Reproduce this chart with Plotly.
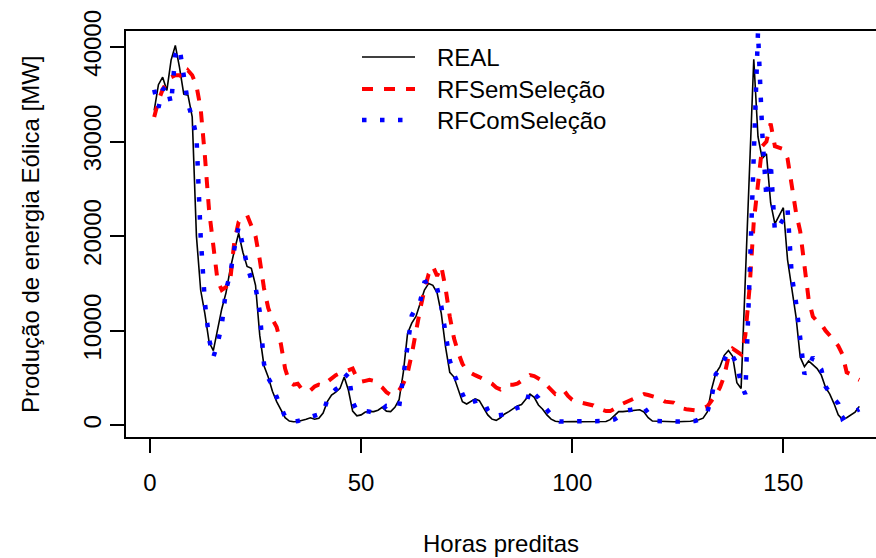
import plotly.graph_objects as go

# Hourly wind-power production over the prediction horizon (MW)
horas = list(range(1, 169))

real = [
    33300, 36000, 36800, 35400, 38600, 40150, 37800, 35000, 34900, 32600,
    20000, 14300, 11800, 8800, 7900, 10000, 12300, 14000, 16500, 18500,
    20300, 18300, 16800, 16600, 14800, 9500, 6300, 5100, 3600, 2500,
    1600, 800, 450, 380, 400, 500, 650, 800, 650, 750,
    1300, 2500, 3200, 3500, 3900, 5100, 3700, 1500, 1000, 1100,
    1400, 1450, 1450, 1600, 1900, 1500, 1450, 1900, 2700, 5600,
    9700, 10800, 11500, 12900, 14300, 15000, 14800, 14000, 11800, 8300,
    5600, 5100, 3700, 2500, 2250, 2500, 2800, 2600, 1900, 1100,
    650, 520, 800, 1200, 1450, 1800, 2050, 2200, 2800, 3300,
    2950, 2150, 1700, 1100, 650, 420, 380, 400, 420, 400,
    390, 380, 380, 370, 360, 360, 370, 400, 600, 1050,
    1450, 1450, 1500, 1520, 1560, 1650, 1400, 800, 450, 420,
    420, 410, 390, 370, 380, 390, 400, 430, 500, 580,
    750, 1400, 3800, 5500, 6200, 7400, 7900, 7300, 4500, 3900,
    15500, 27000, 38700, 30500, 28200, 28700, 23500, 21300, 22200, 23000,
    17500, 14500, 11500, 7200, 6200, 6800, 6400, 6000, 5300, 4000,
    3300, 2300, 1100, 600, 800, 1100, 1400, 2000,
]

rf_sem_selecao = [
    32600, 34300, 35500, 36300, 36800, 37000, 37000, 36700, 37500, 37000,
    35900, 33500, 28500, 22700, 19000, 15300, 14300, 14600, 15300, 19500,
    21500, 22000, 22200, 21200, 20000, 17500, 14500, 12400, 11200, 10400,
    8600, 6000, 4600, 4300, 4400, 3800, 3600, 3700, 4100, 4300,
    4200, 4600, 5000, 5300, 5500, 5700, 5900, 6000, 5000, 4600,
    4700, 4800, 4700, 4400, 4000, 3500, 3200, 3300, 3700, 4400,
    5500, 7500, 10000, 12300, 14300, 16000, 16800, 15800, 16800, 14500,
    11500, 9200, 7700, 6500, 5800, 5500, 5300, 5100, 4900, 4700,
    4400, 4000, 3800, 4100, 4300, 4300, 4400, 4700, 5000, 5300,
    5200, 4900, 4700, 4200, 3700, 3300, 3400, 3700, 3100, 2700,
    2500, 2400, 2300, 2200, 2100, 1800, 1600, 1500, 1500, 1700,
    2000, 2300, 2500, 2700, 2900, 3100, 3300, 3200, 3100, 3000,
    2800, 2500, 2500, 2400, 2100, 1800, 1700, 1600, 1600, 1700,
    1800, 2000, 2600, 3200, 4000, 5200, 7200, 8100, 7800, 7500,
    9500, 14500, 21500, 26000, 29500, 30000, 31900, 29500, 29300, 29200,
    28200, 25000, 22500, 20500, 16500, 13300, 11500, 11000, 10700, 10000,
    9500, 8900, 8400, 7500, 5600, 5400, 5000, 4800,
]

rf_com_selecao = [
    35460, 33560, 35460, 35900, 33980, 39160, 39900, 37000, 34000, 32500,
    30600, 20000, 13000, 9100, 7200, 8600, 10600, 14300, 16000, 18700,
    21000, 19000, 16900, 15400, 14600, 12000, 6500, 5000, 4200, 3000,
    1800, 900, 450, 380, 450, 550, 700, 880, 1000, 1100,
    1300, 2700, 3400, 3800, 4100, 5000, 5500, 2500, 1500, 1550,
    1550, 1450, 1300, 1400, 1700, 2050, 2000, 1950, 1940, 5200,
    8400, 11600, 12400, 13100, 15100, 15300, 15200, 14500, 12600, 10000,
    6870, 5400, 4300, 3400, 2300, 2400, 2550, 2700, 2600, 1600,
    950, 1000, 1100, 1150, 1500, 1700, 1850, 1950, 2050, 3800,
    3300, 2900, 2200, 1600, 1000, 550, 400, 400, 400, 420,
    430, 420, 400, 390, 380, 380, 400, 450, 520, 620,
    900, 1300, 1580, 1650, 1750, 1850, 1900, 1300, 700, 450,
    420, 400, 390, 380, 390, 400, 410, 420, 450, 600,
    900, 1400, 2900, 5400, 5900, 6900, 7850, 7300, 6500, 4300,
    3300, 15500, 28000, 41600, 31000, 24000, 27800, 20500, 21100, 21800,
    22900, 15800, 13000, 9300, 5400, 6200, 7200, 6500, 5900, 4100,
    3400, 2800, 2300, 700, 1000, 1300, 1500, 1700,
]

x_ticks = [0, 50, 100, 150]
y_ticks = [0, 10000, 20000, 30000, 40000]

FONT = "Liberation Sans, Arial, Helvetica, sans-serif"

# Line styles shared by the traces and the legend keys
styles = {
    "REAL": dict(color="black", width=1.6),
    "RFSemSeleção": dict(color="#ff0000", width=4, dash="11px,11px"),
    "RFComSeleção": dict(color="#0000ff", width=4.5, dash="4.5px,13.5px"),
}
series = [("REAL", real), ("RFSemSeleção", rf_sem_selecao), ("RFComSeleção", rf_com_selecao)]

fig = go.Figure()
for name, values in series:
    fig.add_trace(go.Scatter(x=horas, y=values, mode="lines", name=name,
                             line=styles[name], showlegend=False))

# Plot area in pixels: x 126..876, y 31..437
PL, PR, PT, PB = 126, 876, 31, 437


def px_x(p):
    return (p - PL) / (PR - PL)


def px_y(p):
    return (PB - p) / (PB - PT)


# Borderless legend at the top centre of the plot
legend_rows = [57, 89, 120]
shapes = []
annotations = []
for (name, _), row in zip(series, legend_rows):
    shapes.append(dict(type="line", xref="paper", yref="paper",
                       x0=px_x(362), x1=px_x(415), y0=px_y(row), y1=px_y(row),
                       line=styles[name]))
    annotations.append(dict(text=name, xref="paper", yref="paper",
                            x=px_x(435), y=px_y(row), xanchor="left", yanchor="middle",
                            showarrow=False, font=dict(family=FONT, size=24, color="black")))

annotations += [
    dict(text="Horas preditas", xref="paper", yref="paper", x=0.5, y=0,
         xanchor="center", yanchor="middle", yshift=-106, showarrow=False,
         font=dict(family=FONT, size=24, color="black")),
    dict(text="Produção de energia Eólica [MW]", xref="paper", yref="paper",
         x=0, y=0.5, xanchor="center", yanchor="middle", xshift=-96,
         textangle=-90, showarrow=False,
         font=dict(family=FONT, size=24, color="black")),
]

fig.update_layout(
    width=876, height=558,
    margin=dict(l=PL, r=0, t=PT, b=558 - PB),
    paper_bgcolor="white", plot_bgcolor="white",
    font=dict(family=FONT, size=24, color="black"),
    showlegend=False,
    xaxis=dict(
        range=[-5.68, 171.95], tickvals=x_ticks, ticktext=[str(v) for v in x_ticks],
        showgrid=False, zeroline=False,
        showline=True, linecolor="black", linewidth=1.5, mirror=True,
        ticks="outside", ticklen=14, tickwidth=1.5, tickcolor="black",
        ticklabelstandoff=9,
        tickfont=dict(family=FONT, size=24, color="black"),
    ),
    yaxis=dict(
        range=[-1236, 41680], tickvals=y_ticks, ticktext=[str(v) for v in y_ticks],
        showgrid=False, zeroline=False,
        showline=True, linecolor="black", linewidth=1.5, mirror=False,
        ticks="outside", ticklen=14, tickwidth=1.5, tickcolor="black",
        tickangle=-90,
        tickfont=dict(family=FONT, size=24, color="black"),
    ),
    shapes=shapes,
    annotations=annotations,
)

fig.write_html("out.html")
